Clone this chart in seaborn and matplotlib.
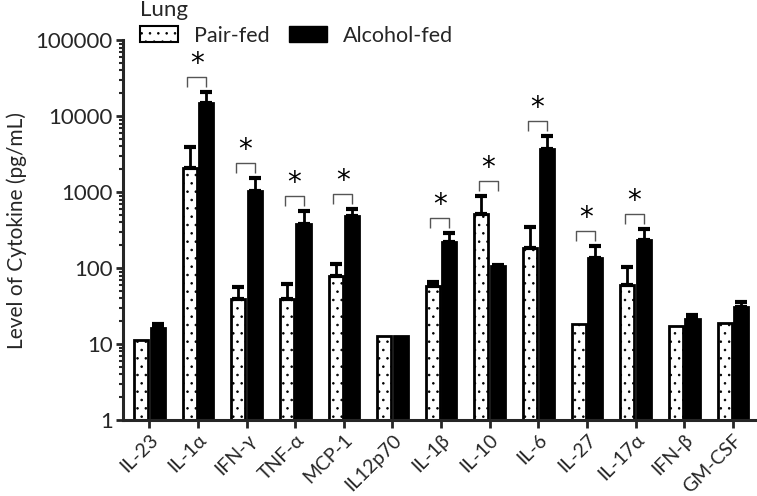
import numpy as np
import pandas as pd
import matplotlib
matplotlib.use("Agg")
import matplotlib.pyplot as plt
import matplotlib.ticker as mticker
from matplotlib.patches import Patch
import seaborn as sns

categories = ["IL-23", "IL-1α", "IFN-γ", "TNF-α", "MCP-1", "IL12p70", "IL-1β",
              "IL-10", "IL-6", "IL-27", "IL-17α", "IFN-β", "GM-CSF"]
pair_fed = [11.3, 2050, 38.7, 38.7, 79, 12.7, 58.5, 509, 182, 18.2, 59.8, 17.3, 19.1]
pair_fed_upper = [11.3, 3950, 55.7, 61.6, 113, 12.7, 66, 894, 343, 18.2, 102, 17.3, 19.1]
alcohol_fed = [16.4, 14700, 1031, 379, 483, 12.7, 222, 106, 3715, 134, 238, 21.5, 31]
alcohol_fed_upper = [18.3, 20500, 1514, 562, 592, 12.7, 286, 109, 5458, 197, 323, 24.1, 35.7]
significant = ["IL-1α", "IFN-γ", "TNF-α", "MCP-1", "IL-1β", "IL-10", "IL-6", "IL-27", "IL-17α"]
groups = ["Pair-fed", "Alcohol-fed"]

df = pd.DataFrame({
    "cytokine": categories * 2,
    "group": [groups[0]] * len(categories) + [groups[1]] * len(categories),
    "value": pair_fed + alcohol_fed,
})

sns.set_style("ticks")
plt.rcParams["font.family"] = ["Lato", "DejaVu Sans"]
plt.rcParams["hatch.linewidth"] = 0.6

fig = plt.figure(figsize=(7.57, 4.96), dpi=100)
ax = fig.add_axes([0.162, 0.153, 0.835, 0.766])
ax.set_yscale("log")

sns.barplot(data=df, x="cytokine", y="value", hue="group", order=categories,
            hue_order=groups, palette=["white", "black"], errorbar=None,
            width=0.68, gap=0.15, edgecolor="black", linewidth=2.0,
            legend=False, ax=ax)

bar_containers = list(ax.containers)

# hatch pair-fed bars
for p in bar_containers[0]:
    p.set_hatch("..")
    p.set_facecolor("white")

uppers = [pair_fed_upper, alcohol_fed_upper]
means = [pair_fed, alcohol_fed]
centers = []
for k, cont in enumerate(bar_containers):
    xs = np.array([p.get_x() + p.get_width() / 2 for p in cont])
    centers.append(xs)
    m = np.array(means[k])
    u = np.array(uppers[k])
    err = np.vstack([np.zeros_like(m), u - m])
    mask = (u - m) > 0
    ax.errorbar(xs[mask], m[mask], yerr=err[:, mask], fmt="none",
                ecolor="black", elinewidth=2.0, capsize=4, capthick=3.0, zorder=1)

# significance brackets
gap = 10 ** (15 / 76)
leg = 10 ** (10 / 76)
for i, c in enumerate(categories):
    if c in significant:
        top = max(pair_fed_upper[i], alcohol_fed_upper[i]) * gap
        x0, x1 = centers[0][i] - 0.05, centers[1][i]
        ax.plot([x0, x0, x1, x1], [top / leg, top, top, top / leg],
                color="#555555", lw=1.0, solid_capstyle="butt")
        ax.text((x0 + x1) / 2, top * 0.97, "*", ha="center", va="bottom",
                fontsize=20, color="black", family="DejaVu Sans")

ax.set_ylim(1, 100000)
ax.set_xlim(-0.55, 12.45)
ax.yaxis.set_major_locator(mticker.LogLocator(base=10, numticks=10))
ax.yaxis.set_minor_locator(mticker.LogLocator(base=10, subs=np.arange(2, 10), numticks=20))
ax.yaxis.set_major_formatter(mticker.FuncFormatter(lambda v, pos: f"{int(round(v))}"))
ax.yaxis.set_minor_formatter(mticker.NullFormatter())

ax.set_xlabel("")
ax.set_ylabel("Level of Cytokine (pg/mL)", fontsize=15, labelpad=6)
ax.tick_params(axis="y", which="major", labelsize=16, width=2, length=5, pad=2)
ax.tick_params(axis="y", which="minor", width=1.5, length=3)
ax.tick_params(axis="x", labelsize=14, width=2, length=6, pad=2)
plt.setp(ax.get_xticklabels(), rotation=45, ha="right", rotation_mode="anchor")

for s in ["top", "right"]:
    ax.spines[s].set_visible(False)
for s in ["left", "bottom"]:
    ax.spines[s].set_linewidth(2.2)

handles = [Patch(facecolor="white", edgecolor="black", hatch="..", linewidth=1.5),
           Patch(facecolor="black", edgecolor="black")]
lg = fig.legend(handles, groups, title="Lung", ncol=2, frameon=False,
                loc="upper left", bbox_to_anchor=(0.185, 1.0), fontsize=15.5,
                title_fontsize=16, handlelength=1.75, handleheight=0.75,
                columnspacing=0.9, handletextpad=0.75, labelspacing=0.2,
                borderaxespad=0.0, borderpad=0.0)
lg._legend_box.align = "left"
lg._legend_box.sep = 4

fig.savefig("out.png", dpi=100)
